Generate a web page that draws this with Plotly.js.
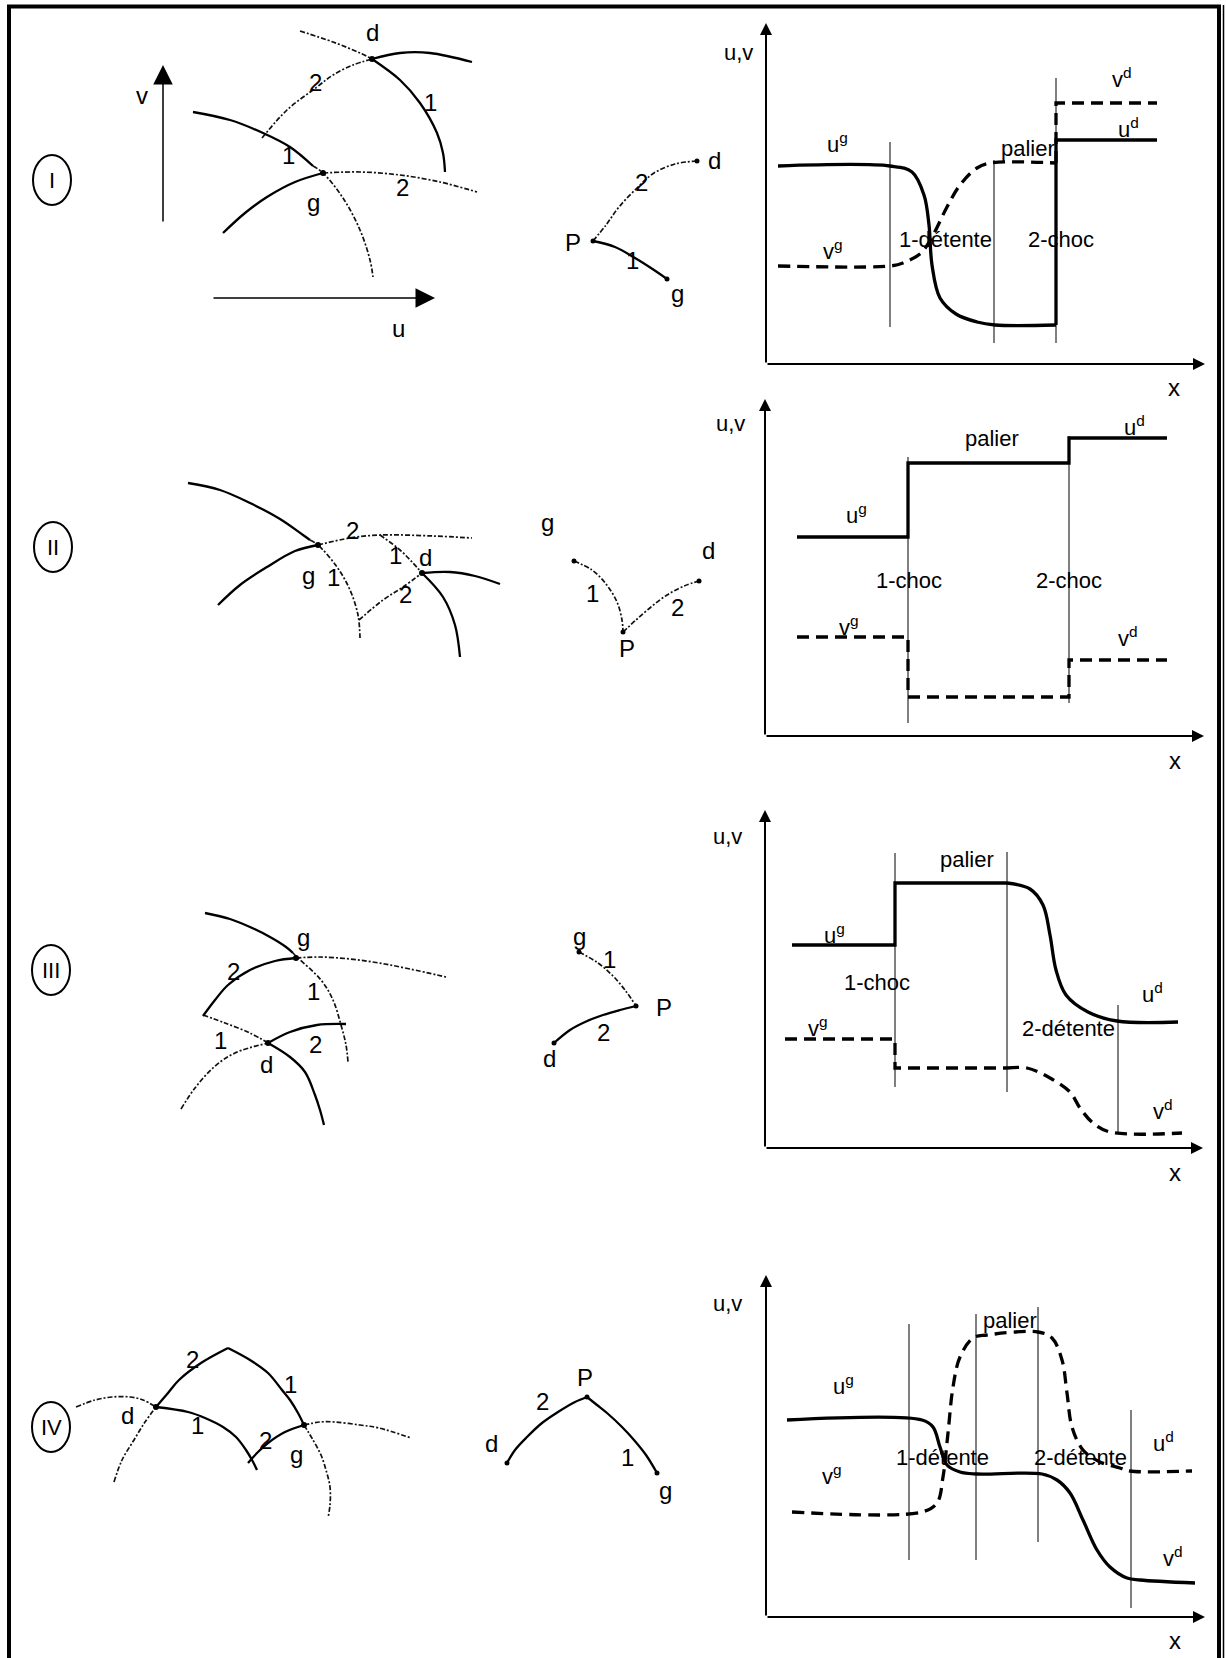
<!DOCTYPE html>
<html>
<head>
<meta charset="utf-8">
<script src="https://cdn.plot.ly/plotly-3.0.1.min.js"></script>
<style>
  html, body { margin: 0; padding: 0; background: #fff; }
  #plot { width: 1226px; height: 1658px; }
</style>
</head>
<body>
<div id="plot"></div>
<script>
var W = 1226, H = 1658;

// ---------- phase plane sketches, page pixels [x, y] ----------
// case I
var I_1g_solid = [[193,112],[230,120],[263,133],[290,147],[313,166]];
var I_1g_dot   = [[313,166],[323,173],[343,198],[360,230],[370,260],[373,277]];
var I_2g_solid = [[223,233],[245,213],[267,197],[295,182],[323,173]];
var I_2g_dot   = [[323,173],[360,172],[400,175],[440,182],[477,192]];
var I_2d_dot   = [[262,138],[287,110],[317,87],[333,75],[353,65],[372,59]];
var I_2d_solid = [[372,59],[400,53],[430,53],[472,62]];
var I_1d_dot   = [[300,31],[333,42],[360,53],[372,59]];
var I_1d_solid = [[372,59],[400,80],[420,103],[437,133],[443,153],[445,172]];
var I_states   = [[323,173],[372,59]];
var I_mini_2   = [[593,241],[606,225],[619,207],[637,188],[654,173],[675,164],[697,161]];
var I_mini_1   = [[593,241],[615,247],[635,258],[654,270],[667,279]];
var I_mini_pts = [[593,241],[697,161],[667,279]];

// case II
var II_1g_solid = [[188,483],[220,490],[250,503],[280,519],[303,535],[310,540]];
var II_1g_dot   = [[310,540],[318,545],[337,567],[350,590],[358,615],[360,638]];
var II_2g_solid = [[218,605],[240,585],[267,567],[295,551],[318,545]];
var II_2g_dot   = [[318,545],[350,538],[380,535],[433,536],[472,538]];
var II_2d_dot   = [[359,620],[383,600],[403,587],[422,573]];
var II_2d_solid = [[422,573],[450,572],[475,576],[500,584]];
var II_1d_dot   = [[380,535],[400,550],[413,563],[422,573]];
var II_1d_solid = [[422,573],[443,597],[455,625],[460,657]];
var II_states   = [[318,545],[422,573]];
var II_mini_1   = [[574,561],[592,570],[606,584],[617,602],[622,620],[623,632]];
var II_mini_2   = [[623,632],[636,620],[651,607],[667,595],[684,586],[699,581]];
var II_mini_pts = [[574,561],[623,632],[699,581]];

// case III
var III_1g_solid = [[205,913],[230,919],[250,927],[270,937],[286,947],[293,953]];
var III_1g_dot   = [[293,953],[298,958],[321,980],[333,1000],[341,1025],[346,1045],[348,1062]];
var III_2g_solid = [[203,1016],[215,1000],[228,985],[250,970],[275,961],[296,958]];
var III_2g_dot   = [[296,958],[320,957],[350,959],[379,963],[410,969],[446,977]];
var III_1d_dot   = [[203,1015],[225,1023],[250,1033],[268,1043]];
var III_1d_solid = [[268,1043],[290,1057],[305,1072],[315,1095],[320,1110],[324,1125]];
var III_2d_dot   = [[181,1109],[195,1088],[214,1067],[235,1053],[268,1043]];
var III_2d_solid = [[268,1043],[290,1032],[317,1025],[346,1024]];
var III_states   = [[296,958],[268,1043]];
var III_mini_1   = [[579,952],[598,963],[612,975],[625,990],[636,1006]];
var III_mini_2   = [[636,1006],[620,1010],[603,1015],[585,1022],[570,1030],[554,1043]];
var III_mini_pts = [[579,952],[636,1006],[554,1043]];

// case IV
var IV_2d_dot   = [[76,1407],[95,1400],[112,1397],[130,1397],[143,1400],[156,1407]];
var IV_2d_solid = [[156,1407],[168,1393],[179,1380],[201,1363],[228,1348]];
var IV_1g_solid = [[228,1348],[250,1360],[268,1373],[282,1390],[290,1400],[298,1413],[304,1425]];
var IV_1g_dot   = [[304,1425],[313,1440],[321,1455],[326,1470],[330,1487],[330,1505],[328,1518]];
var IV_1d_dot   = [[114,1482],[122,1460],[134,1440],[145,1422],[156,1407]];
var IV_1d_solid = [[156,1407],[188,1412],[205,1418],[223,1427],[236,1437],[246,1450],[252,1460],[257,1470]];
var IV_2g_solid = [[248,1463],[258,1452],[268,1443],[285,1432],[304,1425]];
var IV_2g_dot   = [[304,1425],[320,1422],[335,1422],[360,1425],[379,1428],[411,1438]];
var IV_states   = [[156,1407],[304,1425]];
var IV_mini_2   = [[507,1463],[515,1450],[527,1437],[542,1423],[558,1412],[575,1402],[587,1397]];
var IV_mini_1   = [[587,1397],[597,1405],[607,1413],[622,1427],[634,1440],[646,1455],[657,1473]];
var IV_mini_pts = [[507,1463],[587,1397],[657,1473]];

// ---------- profiles u(x), v(x): x from the u,v axis, height above the x axis ----------
// I : 1-detente + 2-choc
var p1_u_rare  = [[12,198],[124,198],[146,192],[158,169],[163,139],[166,99],[174,66],[190,50],[211,42],[229,39],[290,39]];
var p1_u_shock = [[290,39],[290,224],[391,224]];
var p1_v_rare  = [[12,98],[124,98],[137,101],[155,111],[166,127],[181,157],[194,179],[211,196],[225,201],[290,201]];
var p1_v_shock = [[290,201],[290,261],[391,261]];
var p1_waves_x = [124,228,290], p1_waves_top = [222,204,286], p1_waves_bot = [37,21,21];
// II : 1-choc + 2-choc
var p2_u_shock = [[32,199],[143,199],[143,273],[304,273],[304,298],[402,298]];
var p2_v_shock = [[32,99],[143,99],[143,39],[304,39],[304,76],[402,76]];
var p2_waves_x = [143,304], p2_waves_top = [279,300], p2_waves_bot = [13,33];
// III : 1-choc + 2-detente
var p3_u_shock = [[27,203],[130,203],[130,265],[242,265]];
var p3_u_rare  = [[242,265],[265,259],[278,243],[285,213],[291,178],[301,153],[323,136],[352,127],[413,126]];
var p3_v_shock = [[20,109],[130,109],[130,80],[242,80]];
var p3_v_rare  = [[242,80],[262,80],[285,70],[305,56],[315,40],[328,25],[345,16],[417,15]];
var p3_waves_x = [130,242,353], p3_waves_top = [295,296,143], p3_waves_bot = [61,56,16];
// IV : 1-detente + 2-detente
var p4_u_rare = [[21,197],[156,197],[167,190],[174,170],[181,152],[194,145],[211,143],[276,143],[291,137],[304,124],[317,97],[331,67],[344,50],[361,39],[374,37],[429,34]];
var p4_v_rare = [[26,105],[156,105],[171,114],[177,140],[182,184],[187,230],[194,260],[207,279],[221,282],[272,285],[286,279],[296,257],[301,224],[306,190],[317,167],[334,155],[354,149],[364,146],[426,146]];
var p4_waves_x = [143,210,272,365], p4_waves_top = [293,303,310,207], p4_waves_bot = [57,57,75,9];

// ---------- texts, page pixels ----------
var romans = [['I',52,180],['II',53,547],['III',51,970],['IV',51,1427]];
var textsI = [['v',142,95],['u',398,328],['d',372,32],['2',315,82],['1',430,102],['1',288,155],['g',313,202],['2',402,187],
  ['P',573,242],['d',714,160],['g',677,293],['2',641,182],['1',632,260],
  ['u,v',738,52],['x',1174,387],['u<sup>g</sup>',837,143],['v<sup>g</sup>',833,250],['palier',1028,148],
  ['v<sup>d</sup>',1122,78],['u<sup>d</sup>',1128,128],['1-détente',945,239],['2-choc',1061,239]];
var textsII = [['g',308,575],['1',333,577],['2',352,530],['1',395,555],['d',425,557],['2',405,594],
  ['g',547,522],['1',592,593],['P',627,648],['d',708,550],['2',677,607],
  ['u,v',730,423],['x',1175,760],['palier',992,438],['u<sup>g</sup>',856,514],['u<sup>d</sup>',1134,426],
  ['1-choc',909,580],['2-choc',1069,580],['v<sup>g</sup>',849,626],['v<sup>d</sup>',1128,637]];
var textsIII = [['g',303,937],['2',233,971],['1',313,991],['1',220,1040],['2',315,1044],['d',266,1064],
  ['g',579,936],['1',609,959],['P',664,1007],['2',603,1032],['d',549,1058],
  ['u,v',727,836],['x',1175,1172],['palier',967,859],['u<sup>g</sup>',834,934],['1-choc',877,982],
  ['v<sup>g</sup>',818,1027],['u<sup>d</sup>',1152,993],['2-détente',1068,1028],['v<sup>d</sup>',1163,1110]];
var textsIV = [['2',192,1359],['1',290,1384],['d',127,1415],['1',197,1425],['2',265,1440],['g',296,1454],
  ['P',585,1377],['2',542,1401],['d',491,1443],['1',627,1457],['g',665,1490],
  ['u,v',727,1303],['x',1175,1640],['palier',1010,1320],['u<sup>g</sup>',843,1385],['v<sup>g</sup>',832,1475],
  ['1-détente',942,1457],['2-détente',1080,1457],['u<sup>d</sup>',1163,1442],['v<sup>d</sup>',1173,1557]];

// profile panel boxes: origin of the axes and arrow lengths (page px)
var panels = [
  {ox: 766, oy: 364, w: 439, h: 341},
  {ox: 765, oy: 736, w: 439, h: 337},
  {ox: 765, oy: 1148, w: 438, h: 338},
  {ox: 766, oy: 1617, w: 439, h: 342}
];

var FONT = 'Liberation Sans, Arial, sans-serif';
var SOLID = {color: '#000', width: 2.3};
var DOTTED = {color: '#111', width: 1.7, dash: '5px,2px,2px,2px'};
var THICK = {color: '#000', width: 3.3};
var DASHED = {color: '#000', width: 3.3, dash: '12px,7px'};
var THIN = {color: '#000', width: 1};

function xs(p) { return p.map(function (q) { return q[0]; }); }
function ys(p) { return p.map(function (q) { return q[1]; }); }

var data = [];
function curve(pts, line, shape, xa, ya) {
  data.push({
    type: 'scatter', mode: 'lines', x: xs(pts), y: ys(pts),
    line: Object.assign({shape: shape || 'spline', smoothing: 1}, line),
    xaxis: xa || 'x', yaxis: ya || 'y', hoverinfo: 'skip'
  });
}
function dots(pts, size) {
  data.push({
    type: 'scatter', mode: 'markers', x: xs(pts), y: ys(pts),
    marker: {color: '#000', size: size || 6}, xaxis: 'x', yaxis: 'y', hoverinfo: 'skip'
  });
}
function waves(xv, top, bot, k) {
  xv.forEach(function (x, i) {
    curve([[x, bot[i]], [x, top[i]]], THIN, 'linear', 'x' + k, 'y' + k);
  });
}

// phase planes
[[I_1g_dot, I_2g_dot, I_2d_dot, I_1d_dot], [II_1g_dot, II_2g_dot, II_2d_dot, II_1d_dot],
 [III_1g_dot, III_2g_dot, III_1d_dot, III_2d_dot], [IV_2d_dot, IV_1g_dot, IV_1d_dot, IV_2g_dot],
 [I_mini_2, II_mini_1, II_mini_2, III_mini_1]].forEach(function (g) {
  g.forEach(function (c) { curve(c, DOTTED); });
});
[[I_1g_solid, I_2g_solid, I_2d_solid, I_1d_solid], [II_1g_solid, II_2g_solid, II_2d_solid, II_1d_solid],
 [III_1g_solid, III_2g_solid, III_1d_solid, III_2d_solid], [IV_2d_solid, IV_1g_solid, IV_1d_solid, IV_2g_solid],
 [I_mini_1, III_mini_2, IV_mini_2, IV_mini_1]].forEach(function (g) {
  g.forEach(function (c) { curve(c, SOLID); });
});
[I_states, II_states, III_states, IV_states].forEach(function (p) { dots(p, 6); });
[I_mini_pts, II_mini_pts, III_mini_pts, IV_mini_pts].forEach(function (p) { dots(p, 5); });

// profiles
waves(p1_waves_x, p1_waves_top, p1_waves_bot, 2);
waves(p2_waves_x, p2_waves_top, p2_waves_bot, 3);
waves(p3_waves_x, p3_waves_top, p3_waves_bot, 4);
waves(p4_waves_x, p4_waves_top, p4_waves_bot, 5);
curve(p1_u_rare, THICK, 'spline', 'x2', 'y2');
curve(p1_u_shock, THICK, 'linear', 'x2', 'y2');
curve(p1_v_rare, DASHED, 'spline', 'x2', 'y2');
curve(p1_v_shock, DASHED, 'linear', 'x2', 'y2');
curve(p2_u_shock, THICK, 'linear', 'x3', 'y3');
curve(p2_v_shock, DASHED, 'linear', 'x3', 'y3');
curve(p3_u_shock, THICK, 'linear', 'x4', 'y4');
curve(p3_u_rare, THICK, 'spline', 'x4', 'y4');
curve(p3_v_shock, DASHED, 'linear', 'x4', 'y4');
curve(p3_v_rare, DASHED, 'spline', 'x4', 'y4');
curve(p4_u_rare, THICK, 'spline', 'x5', 'y5');
curve(p4_v_rare, DASHED, 'spline', 'x5', 'y5');

var layout = {
  width: W, height: H, margin: {l: 0, r: 0, t: 0, b: 0},
  paper_bgcolor: '#fff', plot_bgcolor: 'rgba(0,0,0,0)', showlegend: false,
  font: {family: FONT, color: '#000', size: 22},
  xaxis: {domain: [0, 1], range: [0, W], visible: false, fixedrange: true},
  yaxis: {domain: [0, 1], range: [H, 0], visible: false, fixedrange: true},
  shapes: [], annotations: []
};

panels.forEach(function (p, i) {
  var k = i + 2;
  layout['xaxis' + k] = {domain: [p.ox / W, (p.ox + p.w) / W], range: [0, p.w], visible: false, anchor: 'y' + k, fixedrange: true};
  layout['yaxis' + k] = {domain: [1 - p.oy / H, 1 - (p.oy - p.h) / H], range: [0, p.h], visible: false, anchor: 'x' + k, fixedrange: true};
  [[0, p.h], [p.w, 0]].forEach(function (tip) {
    layout.annotations.push({
      xref: 'x' + k, yref: 'y' + k, axref: 'x' + k, ayref: 'y' + k,
      x: tip[0], y: tip[1], ax: 0, ay: 0, text: '', showarrow: true,
      arrowhead: 2, arrowsize: 1.2, arrowwidth: 2, arrowcolor: '#000', standoff: 0, startstandoff: 0
    });
  });
});

// u, v axes of the first phase plane
[[163, 65, 163, 223], [435, 298, 212, 298]].forEach(function (a) {
  layout.annotations.push({
    xref: 'x', yref: 'y', axref: 'x', ayref: 'y', x: a[0], y: a[1], ax: a[2], ay: a[3],
    text: '', showarrow: true, arrowhead: 2, arrowsize: 2.6, arrowwidth: 1.5, arrowcolor: '#000', standoff: 0
  });
});

[textsI, textsII, textsIII, textsIV].forEach(function (list) {
  list.forEach(function (t) {
    var single = t[0].length === 1;
    layout.annotations.push({
      xref: 'x', yref: 'y', x: t[1], y: t[2], text: t[0], showarrow: false,
      xanchor: 'center', yanchor: 'middle', font: {family: FONT, size: single ? 24 : 22, color: '#000'}
    });
  });
});

romans.forEach(function (r) {
  layout.shapes.push({type: 'circle', xref: 'x', yref: 'y', x0: r[1] - 19, x1: r[1] + 19, y0: r[2] - 25, y1: r[2] + 25,
    line: {color: '#000', width: 2}});
  layout.annotations.push({xref: 'x', yref: 'y', x: r[1], y: r[2], text: r[0], showarrow: false,
    xanchor: 'center', yanchor: 'middle', font: {family: FONT, size: 22, color: '#000'}});
});

// page frame
layout.shapes.push({type: 'rect', xref: 'x', yref: 'y', x0: 9, x1: 1219, y0: 6.5, y1: 1664, line: {color: '#000', width: 4}});
layout.shapes.push({type: 'line', xref: 'x', yref: 'y', x0: 1223.5, x1: 1223.5, y0: 5, y1: 1664, line: {color: '#000', width: 1.5}});

Plotly.newPlot('plot', data, layout, {staticPlot: true, displayModeBar: false});
</script>
</body>
</html>
